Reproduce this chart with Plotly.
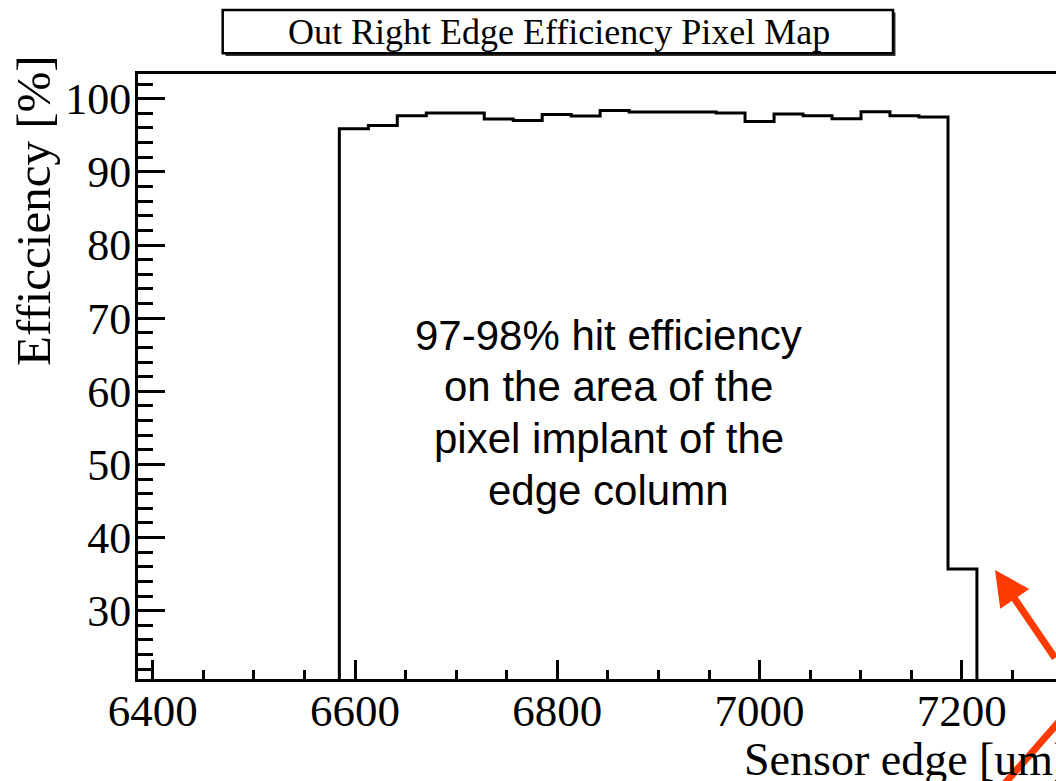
import plotly.graph_objects as go

# ---------------- data ----------------
bin_edges = [6584.4, 6613.1, 6641.7, 6670.4, 6699.0, 6727.7, 6756.4, 6785.0,
             6813.7, 6842.3, 6871.0, 6899.7, 6928.3, 6957.0, 6985.6, 7014.3,
             7043.0, 7071.6, 7100.3, 7128.9, 7157.6, 7186.3, 7214.9]
efficiency = [95.9, 96.35, 97.67, 98.04, 98.04, 97.22, 97.03, 97.85, 97.63,
              98.40, 98.18, 98.18, 98.18, 98.04, 96.9, 97.9, 97.67, 97.26,
              98.22, 97.67, 97.5, 35.7]
x_tick_values = [6400, 6600, 6800, 7000, 7200]
x_tick_labels = ["6400", "6600", "6800", "7000", "7200"]
y_tick_values = [30, 40, 50, 60, 70, 80, 90, 100]
y_tick_labels = ["30", "40", "50", "60", "70", "80", "90", "100"]

title_text = "Out Right Edge Efficiency Pixel Map"
x_title = "Sensor edge [um]"
y_title = "Efficciency [%]"
note_lines = ["97-98% hit efficiency", "on the area of the",
              "pixel implant of the", "edge column"]

X_RANGE = [6385.3, 7293.1]
Y_RANGE = [20.66, 103.38]

# ---------------- geometry ----------------
W, H = 1056, 781
L, R, T, B = 138, 0, 74, 102
PW, PH = W - L - R, H - T - B


def px(x):
    return (x - L) / PW


def py(y):
    return (H - B - y) / PH


SERIF = "Liberation Serif, Times New Roman, serif"
SANS = "Liberation Sans, Arial, sans-serif"
RED = "#FF3A00"

# step outline of histogram
base = Y_RANGE[0]
xs = [bin_edges[0]] + bin_edges[:-1] + [bin_edges[-1]]
ys = [base] + efficiency + [base]

fig = go.Figure()
fig.add_trace(go.Scatter(
    x=xs, y=ys, mode="lines", line=dict(shape="hv", color="black", width=3),
    hoverinfo="skip", showlegend=False,
))

fig.update_layout(
    width=W, height=H,
    margin=dict(l=L, r=R, t=T, b=B, pad=0),
    paper_bgcolor="white", plot_bgcolor="white",
    font=dict(family=SERIF, color="black", size=44),
    showlegend=False,
)

fig.update_xaxes(
    range=X_RANGE, showgrid=False, zeroline=False,
    showline=True, linecolor="black", linewidth=3, mirror=True,
    ticks="inside", ticklen=19, tickwidth=2.5, tickcolor="black",
    tickvals=x_tick_values, ticktext=x_tick_labels,
    tickfont=dict(family=SERIF, size=45, color="black"),
    ticklabelstandoff=-10,
    minor=dict(ticks="inside", ticklen=9, tickwidth=2.5, tickcolor="black",
               dtick=50, tick0=6400, showgrid=False),
)
fig.update_yaxes(
    range=Y_RANGE, showgrid=False, zeroline=False,
    showline=True, linecolor="black", linewidth=3,
    ticks="inside", ticklen=27, tickwidth=2.5, tickcolor="black",
    tickvals=y_tick_values, ticktext=y_tick_labels,
    tickfont=dict(family=SERIF, size=44, color="black"),
    ticklabelstandoff=-5,
    minor=dict(ticks="inside", ticklen=15, tickwidth=2.5, tickcolor="black",
               dtick=2, tick0=20, showgrid=False),
)

# title box with shadow
fig.add_shape(type="rect", xref="paper", yref="paper",
              x0=px(225.5), x1=px(895.5), y0=py(12.5), y1=py(56),
              fillcolor="#333333", line=dict(width=0), layer="above")
fig.add_shape(type="rect", xref="paper", yref="paper",
              x0=px(222.7), x1=px(893), y0=py(10), y1=py(53.3),
              fillcolor="white", line=dict(color="black", width=2.5), layer="above")

annotations = [
    dict(text=title_text, x=px(559), y=py(32), xref="paper", yref="paper",
         xanchor="center", yanchor="middle", showarrow=False,
         font=dict(family=SERIF, size=36, color="black")),
    dict(text=y_title, x=px(33), y=py(211), xref="paper", yref="paper",
         xanchor="center", yanchor="middle", textangle=-90, showarrow=False,
         font=dict(family=SERIF, size=49, color="black")),
    dict(text=x_title, x=px(742), y=py(759), xref="paper", yref="paper",
         xanchor="left", yanchor="middle", showarrow=False,
         font=dict(family=SERIF, size=46, color="black")),
    dict(text="", x=px(995), y=py(570), xref="paper", yref="paper",
         showarrow=True, ax=105, ay=89.5, arrowhead=2, arrowsize=1.0,
         arrowwidth=7, arrowcolor=RED),
]
note_y = [335, 387, 438.5, 490]
for line, yy in zip(note_lines, note_y):
    annotations.append(dict(text=line, x=px(608.5), y=py(yy), xref="paper", yref="paper",
                            xanchor="center", yanchor="middle", showarrow=False,
                            font=dict(family=SANS, size=42, color="black")))
fig.update_layout(annotations=annotations)

fig.add_shape(type="line", xref="paper", yref="paper",
              x0=px(1080), y0=py(697.6), x1=px(1000), y1=py(789),
              line=dict(color=RED, width=7), layer="above")

fig.write_html("out.html")
